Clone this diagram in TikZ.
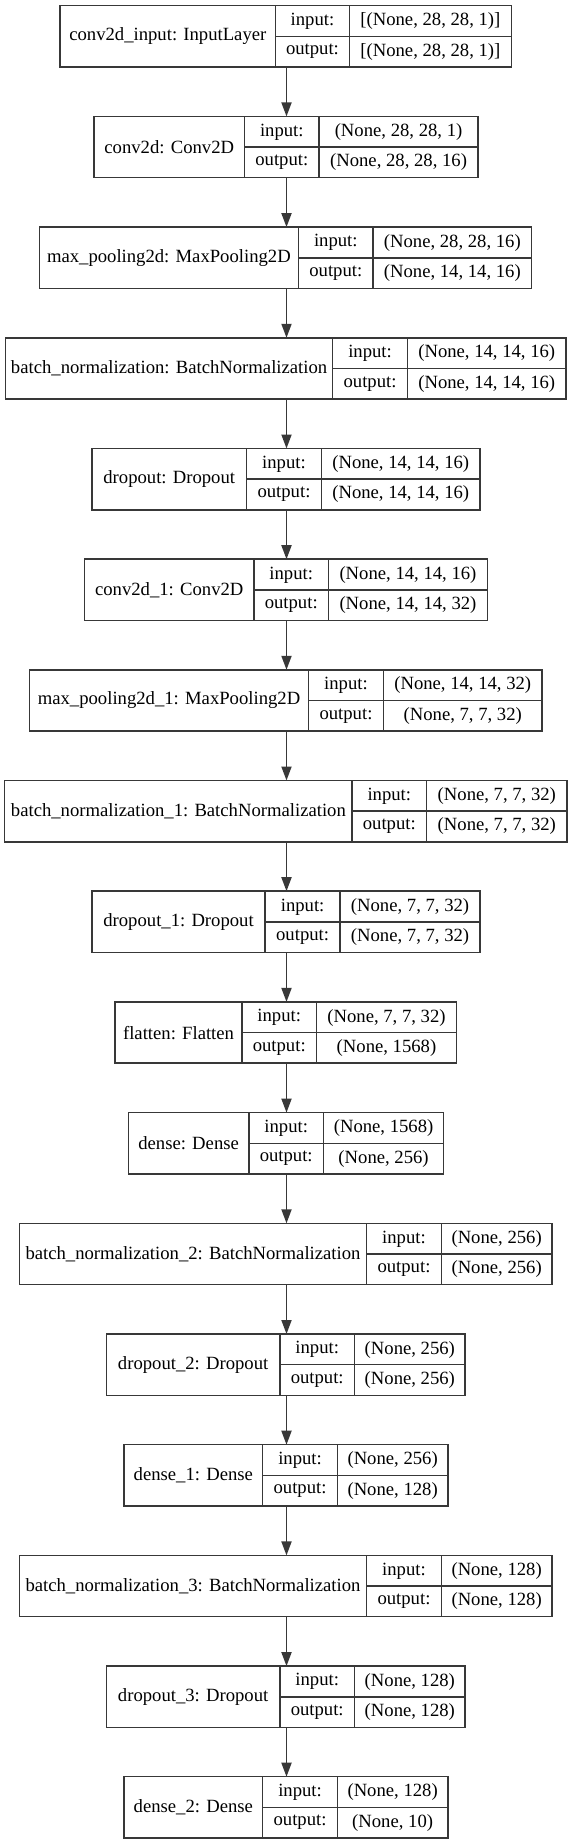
\documentclass[tikz,border=0pt]{standalone}
\usepackage{fontspec}
\setmainfont{Liberation Serif}
\usetikzlibrary{arrows.meta}
\definecolor{edgegray}{HTML}{383838}
\tikzset{
  layerframe/.style={draw=edgegray, line width=1.5pt, inner sep=0pt, outer sep=0pt, rectangle},
  cellline/.style={draw=edgegray, line width=1.5pt},
  celltext/.style={inner sep=0pt, outer sep=0pt, font=\fontsize{18.67}{20}\selectfont, text=black},
  flowarrow/.style={draw=edgegray, line width=1.8pt, -{Triangle[length=14pt,width=10pt]}}
}
% #1 id, #2 top, #3 left, #4 divider1, #5 divider2, #6 right, #7 label, #8 input, #9 output
\newcommand\layerbox[9]{%
  \node[layerframe, anchor=north west, minimum width={#6-#3}, minimum height=61.3] (#1) at (#3,#2) {};
  \draw[cellline] (#4,#2) -- (#4,#2+61.3);
  \draw[cellline] (#5,#2) -- (#5,#2+61.3);
  \draw[cellline] (#4,#2+30.65) -- (#6,#2+30.65);
  \node[celltext] (#1-name) at ({(#3+#4)/2},#2+30.65) {#7};
  \node[celltext] (#1-inl) at ({(#4+#5)/2},#2+15.6) {input:};
  \node[celltext] (#1-outl) at ({(#4+#5)/2},#2+46) {output:};
  \node[celltext] (#1-inv) at ({(#5+#6)/2},#2+15.6) {#8};
  \node[celltext] (#1-outv) at ({(#5+#6)/2},#2+46) {#9};
}
\begin{document}
\begin{tikzpicture}[x=1pt,y=-1pt]
\useasboundingbox (0,0) rectangle (572,1844);
\fill[white] (0,0) rectangle (572,1844);
\coordinate (ax) at (286.5,0);
\layerbox{L1}{5.7}{60.2}{275.5}{349.4}{511.4}{conv2d\_input: InputLayer}{[(None, 28, 28, 1)]}{[(None, 28, 28, 1)]}
\layerbox{L2}{116.4}{94.1}{244.4}{319.2}{477.9}{conv2d: Conv2D}{(None, 28, 28, 1)}{(None, 28, 28, 16)}
\layerbox{L3}{227.1}{39.4}{298.4}{373.2}{531.5}{max\_pooling2d: MaxPooling2D}{(None, 28, 28, 16)}{(None, 14, 14, 16)}
\layerbox{L4}{337.8}{5.5}{332.7}{407.4}{566.1}{batch\_normalization: BatchNormalization}{(None, 14, 14, 16)}{(None, 14, 14, 16)}
\layerbox{L5}{448.5}{91.9}{246.6}{321.4}{480.1}{dropout: Dropout}{(None, 14, 14, 16)}{(None, 14, 14, 16)}
\layerbox{L6}{559.2}{84.6}{253.9}{328.6}{487.3}{conv2d\_1: Conv2D}{(None, 14, 14, 16)}{(None, 14, 14, 32)}
\layerbox{L7}{669.8}{29.5}{308.6}{383.4}{542.1}{max\_pooling2d\_1: MaxPooling2D}{(None, 14, 14, 32)}{(None, 7, 7, 32)}
\layerbox{L8}{780.5}{4.7}{352.1}{426.5}{567.2}{batch\_normalization\_1: BatchNormalization}{(None, 7, 7, 32)}{(None, 7, 7, 32)}
\layerbox{L9}{891.2}{91.9}{265.2}{340.0}{480.1}{dropout\_1: Dropout}{(None, 7, 7, 32)}{(None, 7, 7, 32)}
\layerbox{L10}{1001.9}{115.2}{241.9}{316.6}{456.4}{flatten: Flatten}{(None, 7, 7, 32)}{(None, 1568)}
\layerbox{L11}{1112.6}{128.4}{248.8}{323.6}{443.6}{dense: Dense}{(None, 1568)}{(None, 256)}
\layerbox{L12}{1223.3}{19.4}{366.6}{441.4}{551.9}{batch\_normalization\_2: BatchNormalization}{(None, 256)}{(None, 256)}
\layerbox{L13}{1334.0}{106.5}{279.8}{354.6}{465.1}{dropout\_2: Dropout}{(None, 256)}{(None, 256)}
\layerbox{L14}{1444.7}{124.0}{262.7}{337.4}{447.9}{dense\_1: Dense}{(None, 256)}{(None, 128)}
\layerbox{L15}{1555.4}{19.4}{366.6}{441.4}{551.9}{batch\_normalization\_3: BatchNormalization}{(None, 128)}{(None, 128)}
\layerbox{L16}{1666.1}{106.5}{279.8}{354.6}{465.1}{dropout\_3: Dropout}{(None, 128)}{(None, 128)}
\layerbox{L17}{1776.7}{124.0}{262.7}{337.4}{447.9}{dense\_2: Dense}{(None, 128)}{(None, 10)}
\foreach \a/\b in {L1/L2,L2/L3,L3/L4,L4/L5,L5/L6,L6/L7,L7/L8,L8/L9,L9/L10,L10/L11,L11/L12,L12/L13,L13/L14,L14/L15,L15/L16,L16/L17}
  \draw[flowarrow] (ax |- \a.south) -- (ax |- \b.north);
\end{tikzpicture}
\end{document}
